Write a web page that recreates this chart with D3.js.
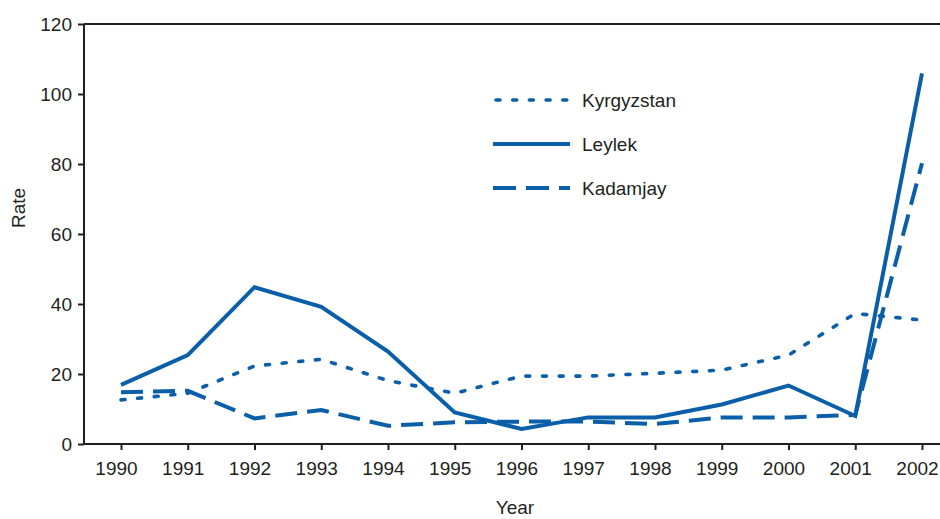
<!DOCTYPE html>
<html><head><meta charset="utf-8">
<script src="https://cdn.jsdelivr.net/npm/d3@7"></script>
<style>body{margin:0;background:#fff}svg{display:block;font-family:"Liberation Sans",Arial,sans-serif}</style>
</head><body>
<svg id="c" width="940" height="519"></svg>
<script>
const years = [1990,1991,1992,1993,1994,1995,1996,1997,1998,1999,2000,2001,2002];
const kyrgyzstan = [12.6,14.5,22.3,24.2,18.1,14.5,19.4,19.4,20.2,21.1,25.4,37.3,35.4];
const leylek = [16.9,25.4,44.8,39.2,26.4,9.0,4.3,7.6,7.6,11.3,16.7,8.0,105.9];
const kadamjay = [14.8,15.2,7.3,9.7,5.2,6.2,6.4,6.4,5.7,7.6,7.6,8.3,80.2];
const yTicks = [0,20,40,60,80,100,120];
const seriesNames = ["Kyrgyzstan","Leylek","Kadamjay"];

const color = "#0a5fa8", ink = "#231f20";
const svg = d3.select("#c");
const x = d3.scaleLinear().domain([1990,2002]).range([121,922]);
const y = d3.scaleLinear().domain([0,120]).range([444,24]);
const dashes = {Kyrgyzstan:"4 12.7", Leylek:null, Kadamjay:"22 10"};
const caps = {Kyrgyzstan:"round", Leylek:"butt", Kadamjay:"butt"};
const data = {Kyrgyzstan:kyrgyzstan, Leylek:leylek, Kadamjay:kadamjay};
const fs = "19px";

svg.append("line").attr("x1",84).attr("x2",940).attr("y1",24).attr("y2",24).attr("stroke",ink).attr("stroke-width",2);
svg.append("line").attr("x1",84).attr("x2",940).attr("y1",444).attr("y2",444).attr("stroke",ink).attr("stroke-width",2);

const yAxis = svg.append("g").attr("transform","translate(84,0)")
  .call(d3.axisLeft(y).tickValues(yTicks).tickSize(6).tickPadding(6).tickFormat(d3.format("d")));
const xAxis = svg.append("g").attr("transform","translate(0,444)")
  .call(d3.axisBottom(x).tickValues(years).tickSize(6).tickPadding(12).tickFormat(d3.format("d")));
[yAxis,xAxis].forEach(g=>{
  g.select(".domain").attr("stroke",ink).attr("stroke-width",2);
  g.selectAll(".tick line").attr("stroke",ink).attr("stroke-width",2);
  g.selectAll(".tick text").attr("fill",ink).style("font-size",fs).style("font-family","'Liberation Sans',Arial,sans-serif");
});
xAxis.selectAll(".tick text").attr("dx",-5);
yAxis.select(".domain").attr("d","M0,24V444");
xAxis.select(".domain").remove();

const line = d3.line().x((d,i)=>x(years[i])).y(d=>y(d));
seriesNames.forEach(n=>{
  svg.append("path").datum(data[n]).attr("d",line).attr("fill","none")
    .attr("stroke",color).attr("stroke-width",n==="Kyrgyzstan"?3.6:4)
    .attr("stroke-linecap",caps[n]).attr("stroke-linejoin","miter")
    .attr("stroke-dasharray",dashes[n]);
});

const legY = [100,144,188];
seriesNames.forEach((n,i)=>{
  svg.append("line").attr("x1", n==="Kyrgyzstan"?496:493).attr("x2", n==="Kyrgyzstan"?568:570)
    .attr("y1",legY[i]).attr("y2",legY[i])
    .attr("stroke",color).attr("stroke-width",n==="Kyrgyzstan"?3.6:4)
    .attr("stroke-linecap",caps[n])
    .attr("stroke-dasharray", n==="Kyrgyzstan"?"4 12.7":(n==="Kadamjay"?"23 10":null));
  svg.append("text").attr("x",582).attr("y",legY[i]).attr("dy","0.35em")
    .attr("fill",ink).style("font-size",fs).text(n);
});

svg.append("text").attr("transform","translate(25,208) rotate(-90)").attr("text-anchor","middle")
  .attr("fill",ink).style("font-size",fs).text("Rate");
svg.append("text").attr("x",515).attr("y",514).attr("text-anchor","middle")
  .attr("fill",ink).style("font-size",fs).text("Year");
</script>
</body></html>
